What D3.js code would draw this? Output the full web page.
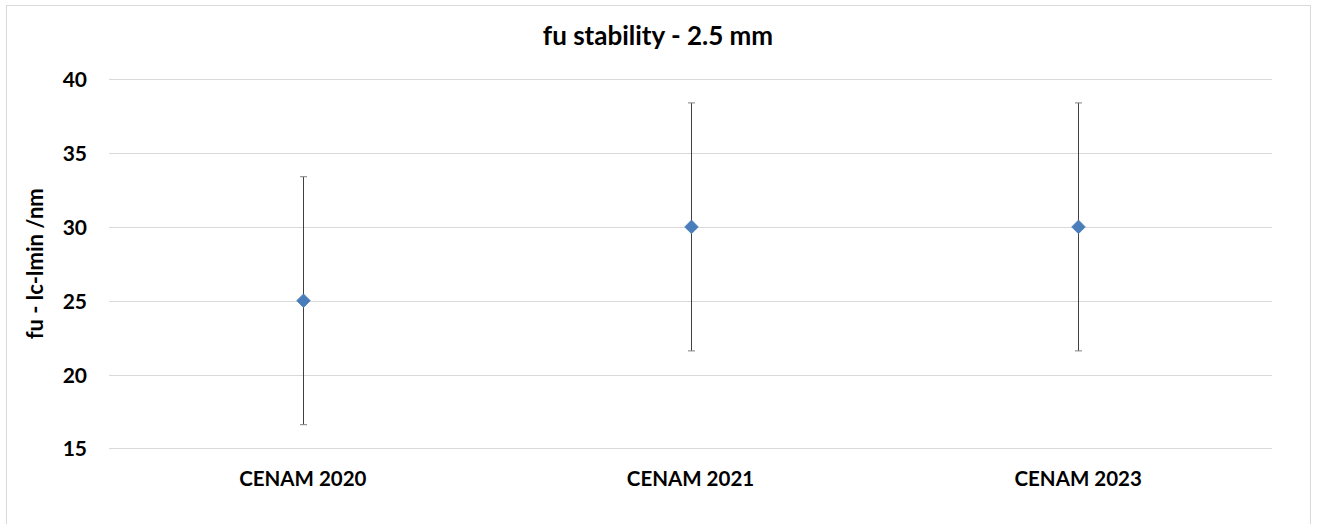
<!DOCTYPE html>
<html>
<head>
<meta charset="utf-8">
<script src="https://cdn.jsdelivr.net/npm/d3@7"></script>
<style>
  body { margin: 0; background: #fff; }
  text { font-family: Lato, "Liberation Sans", sans-serif; font-weight: bold; fill: #000; }
</style>
</head>
<body>
<script>
var categories = ["CENAM 2020", "CENAM 2021", "CENAM 2023"];
var values = [25, 30, 30];
var errors = [8.4, 8.4, 8.4];
var yTicks = [15, 20, 25, 30, 35, 40];

var width = 1318;
var height = 524;
var plotLeft = 109, plotRight = 1272, plotTop = 79.3, plotBottom = 448.3;

var svg = d3.select("body")
            .append("svg")
               .attr("width", width)
               .attr("height", height);

// chart border
svg.append("rect")
   .attr("x", 6.5).attr("y", 5.5)
   .attr("width", 1304).attr("height", 530)
   .attr("fill", "#fff")
   .attr("stroke", "#d9d9d9");

var x = d3.scaleBand()
         .domain(categories)
         .range([plotLeft, plotRight])
         .padding(0);

var y = d3.scaleLinear()
         .domain([15, 40])
         .range([plotBottom, plotTop]);

// gridlines
svg.append("g")
   .selectAll("line")
   .data(yTicks)
   .enter().append("line")
      .attr("x1", plotLeft).attr("x2", plotRight)
      .attr("y1", function(d) { return Math.round(y(d)) + 0.5; })
      .attr("y2", function(d) { return Math.round(y(d)) + 0.5; })
      .attr("stroke", "#d9d9d9")
      .attr("stroke-width", 1);

// y axis labels
var yAxis = d3.axisLeft(y)
      .tickValues(yTicks)
      .tickSize(0)
      .tickPadding(22);

svg.append("g")
   .attr("class", "y axis")
   .attr("transform", "translate(" + plotLeft + ",0)")
   .call(yAxis)
   .call(function(g) { g.select(".domain").remove(); })
   .selectAll("text")
      .style("font-size", "21px")
      .attr("dy", "0.36em");

// x axis labels
var xAxis = d3.axisBottom(x)
      .tickSize(0)
      .tickPadding(23);

svg.append("g")
   .attr("class", "x axis")
   .attr("transform", "translate(0," + plotBottom + ")")
   .call(xAxis)
   .call(function(g) { g.select(".domain").remove(); })
   .selectAll("text")
      .style("font-size", "20.5px");

var data = categories.map(function(c, i) {
   return { cat: c, value: values[i], err: errors[i] };
});

var cx = function(d) { return Math.round(x(d.cat) + x.bandwidth() / 2) + 0.5; };

// error bars
var eb = svg.append("g").selectAll("g")
   .data(data)
   .enter().append("g");

eb.append("line")
   .attr("x1", cx).attr("x2", cx)
   .attr("y1", function(d) { return y(d.value + d.err); })
   .attr("y2", function(d) { return y(d.value - d.err); })
   .attr("stroke", "#404040");

eb.selectAll(".cap")
   .data(function(d) { return [d.value + d.err, d.value - d.err].map(function(v) { return { d: d, v: v }; }); })
   .enter().append("line")
      .attr("class", "cap")
      .attr("x1", function(c) { return cx(c.d) - 3.5; })
      .attr("x2", function(c) { return cx(c.d) + 3.5; })
      .attr("y1", function(c) { return y(c.v); })
      .attr("y2", function(c) { return y(c.v); })
      .attr("stroke", "#808080");

// markers
svg.append("g").selectAll("path")
   .data(data)
   .enter().append("path")
      .attr("d", d3.symbol().type(d3.symbolDiamond2).size(118))
      .attr("transform", function(d) { return "translate(" + cx(d) + "," + y(d.value) + ")"; })
      .attr("fill", "#4a7ebb")
      .attr("stroke", "#4a7ebb")
      .attr("stroke-width", 0.8)
      .attr("stroke-linejoin", "round");

// title
svg.append("text")
   .attr("x", 658)
   .attr("y", 45)
   .attr("text-anchor", "middle")
   .style("font-size", "26px")
   .text("fu stability - 2.5 mm");

// y label
svg.append("text")
   .attr("transform", "translate(43," + ((plotTop + plotBottom) / 2) + ") rotate(-90)")
   .attr("text-anchor", "middle")
   .style("font-size", "22px")
   .text("fu - lc-lmin /nm");
</script>
</body>
</html>
